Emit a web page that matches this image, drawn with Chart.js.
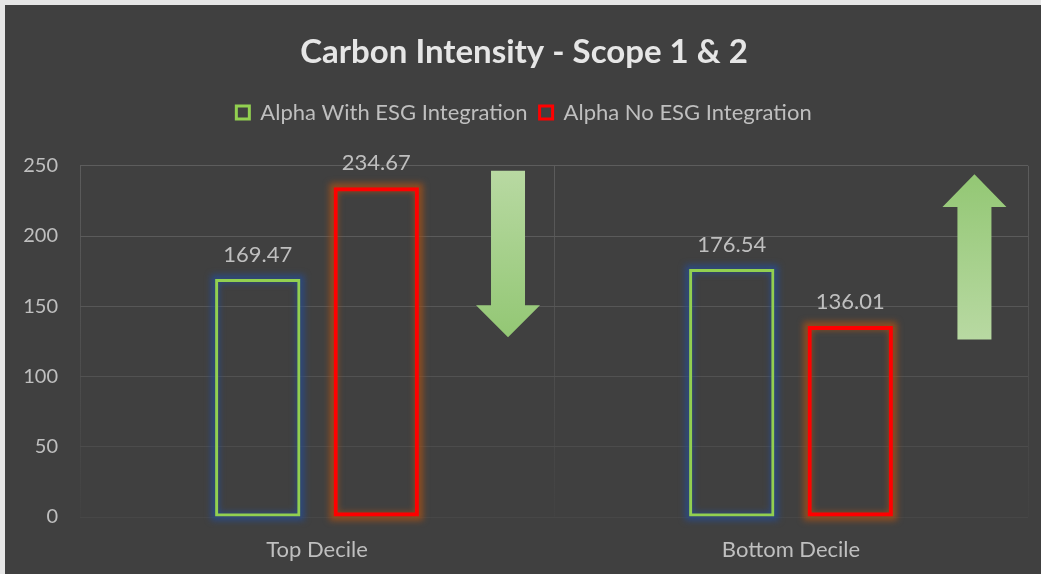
<!DOCTYPE html>
<html>
<head>
<meta charset="utf-8">
<script src="https://cdn.jsdelivr.net/npm/chart.js@4.4.1/dist/chart.umd.min.js"></script>
<style>
  html, body { margin: 0; padding: 0; background: #e6e6e6; }
  #wrap { position: absolute; left: 5px; top: 5px; width: 1036px; height: 569px; background: #404040; }
</style>
</head>
<body>
<div id="wrap"><canvas id="chart-carbon"></canvas></div>
<script>
  // ---- data ----
  const categories = ["Top Decile", "Bottom Decile"];
  const withEsg = [169.47, 176.54];
  const noEsg = [234.67, 136.01];
  const seriesNames = ["Alpha With ESG Integration", "Alpha No ESG Integration"];
  const yTicks = [0, 50, 100, 150, 200, 250];

  // decorative arrows, in axis units (x = category index, y = value)
  const arrowDown = { x: 0.403, top: 246.4, headStart: 150.7, tip: 127.9 };
  const arrowUp = { x: 1.387, tip: 244, headStart: 220.7, bottom: 126.4 };

  const txt = "#bfbfbf";
  const gridCols = ["#474747", "#4c4c4c", "#525252", "#575757", "#5b5b5b", "#5d5d5d"];

  /** glow round the bar outlines + value labels */
  const barExtras = {
    id: "barExtras",
    beforeDatasetsDraw(chart) {
      const ctx = chart.ctx;
      const glows = ["rgba(40,75,140,0.85)", "rgba(160,80,25,0.85)"];
      chart.data.datasets.forEach((ds, i) => {
        chart.getDatasetMeta(i).data.forEach(bar => {
          const w = bar.width;
          ctx.save();
          ctx.filter = "blur(3px)";
          ctx.strokeStyle = glows[i];
          ctx.lineWidth = 8;
          ctx.strokeRect(bar.x - w / 2, bar.y, w, bar.base - bar.y);
          ctx.restore();
        });
      });
    },
    afterDatasetsDraw(chart) {
      const ctx = chart.ctx;
      ctx.save();
      ctx.fillStyle = txt;
      ctx.font = "22px Lato";
      ctx.textAlign = "center";
      ctx.textBaseline = "middle";
      chart.data.datasets.forEach((ds, i) => {
        chart.getDatasetMeta(i).data.forEach((bar, j) => {
          ctx.fillText(ds.data[j].toFixed(2), bar.x, bar.y - 24);
        });
      });
      ctx.restore();
    }
  };

  /** the two big green arrows */
  const arrows = {
    id: "arrows",
    afterDatasetsDraw(chart) {
      const { ctx, scales: { x, y } } = chart;
      const half = 17, wing = 32;
      const paint = (pts, y0, y1) => {
        const g = ctx.createLinearGradient(0, y0, 0, y1);
        g.addColorStop(0, "#b8d9a2");
        g.addColorStop(1, "#93c774");
        ctx.save();
        ctx.beginPath();
        pts.forEach((p, k) => k ? ctx.lineTo(p[0], p[1]) : ctx.moveTo(p[0], p[1]));
        ctx.closePath();
        ctx.fillStyle = g;
        ctx.fill();
        ctx.restore();
      };
      // down
      let cx = x.getPixelForValue(arrowDown.x);
      let t = y.getPixelForValue(arrowDown.top), h = y.getPixelForValue(arrowDown.headStart), tp = y.getPixelForValue(arrowDown.tip);
      paint([[cx - half, t], [cx + half, t], [cx + half, h], [cx + wing, h], [cx, tp], [cx - wing, h], [cx - half, h]], t, tp);
      // up
      cx = x.getPixelForValue(arrowUp.x);
      tp = y.getPixelForValue(arrowUp.tip); h = y.getPixelForValue(arrowUp.headStart);
      const b = y.getPixelForValue(arrowUp.bottom);
      paint([[cx, tp], [cx + wing, h], [cx + half, h], [cx + half, b], [cx - half, b], [cx - half, h], [cx - wing, h]], b, tp);
    }
  };

  const ctx = document.getElementById("chart-carbon").getContext("2d");

  const chart = new Chart(ctx, {
    type: "bar",
    data: {
      labels: categories,
      datasets: [{
        label: seriesNames[0],
        data: withEsg,
        backgroundColor: "rgba(0,0,0,0)",
        borderColor: "#92d050",
        borderWidth: 3,
        borderSkipped: false
      }, {
        label: seriesNames[1],
        data: noEsg,
        backgroundColor: "rgba(0,0,0,0)",
        borderColor: "#ff0000",
        borderWidth: 4,
        borderSkipped: false
      }]
    },
    options: {
      responsive: true,
      maintainAspectRatio: false,
      animation: false,
      datasets: { bar: { categoryPercentage: 0.5, barPercentage: 0.72 } },
      layout: { padding: { top: 12, right: 13, left: 15, bottom: 11 } },
      plugins: {
        tooltip: { enabled: false },
        title: {
          display: true,
          text: "Carbon Intensity - Scope 1 & 2",
          color: "#e6e6e6",
          font: { family: "Lato", size: 33, weight: "bold" },
          padding: { top: 16, bottom: 17 }
        },
        // empty spacer between legend and plot
        subtitle: {
          display: true,
          text: "",
          weight: 500,
          font: { size: 1 },
          padding: { top: 31, bottom: 0 }
        },
        legend: {
          labels: {
            color: txt,
            font: { family: "Lato", size: 22 },
            boxWidth: 13,
            boxHeight: 13,
            padding: 12,
            generateLabels: (c) => c.data.datasets.map((ds, i) => ({
              text: ds.label,
              fillStyle: "rgba(0,0,0,0)",
              strokeStyle: ds.borderColor,
              lineWidth: 3,
              fontColor: txt,
              datasetIndex: i
            }))
          }
        }
      },
      scales: {
        x: {
          afterFit: (s) => { s.height = 46; },
          grid: {
            offset: true,
            color: (c) => {
              const a = c.chart.chartArea;
              if (!a) return "#555";
              const g = c.chart.ctx.createLinearGradient(0, a.top, 0, a.bottom);
              g.addColorStop(0, "#5c5c5c");
              g.addColorStop(1, "#424242");
              return g;
            },
            drawTicks: false
          },
          border: { display: false },
          ticks: { color: txt, font: { family: "Lato", size: 22 }, padding: 20 }
        },
        y: {
          min: 0,
          max: 250,
          afterFit: (s) => { s.width = 60; },
          afterBuildTicks: (s) => { s.ticks = yTicks.map(v => ({ value: v })); },
          grid: { color: (c) => gridCols[c.index] || "#555", drawTicks: false },
          border: { display: false },
          ticks: { color: txt, font: { family: "Lato", size: 20 }, padding: 22 }
        }
      }
    },
    plugins: [barExtras, arrows]
  });
</script>
</body>
</html>
